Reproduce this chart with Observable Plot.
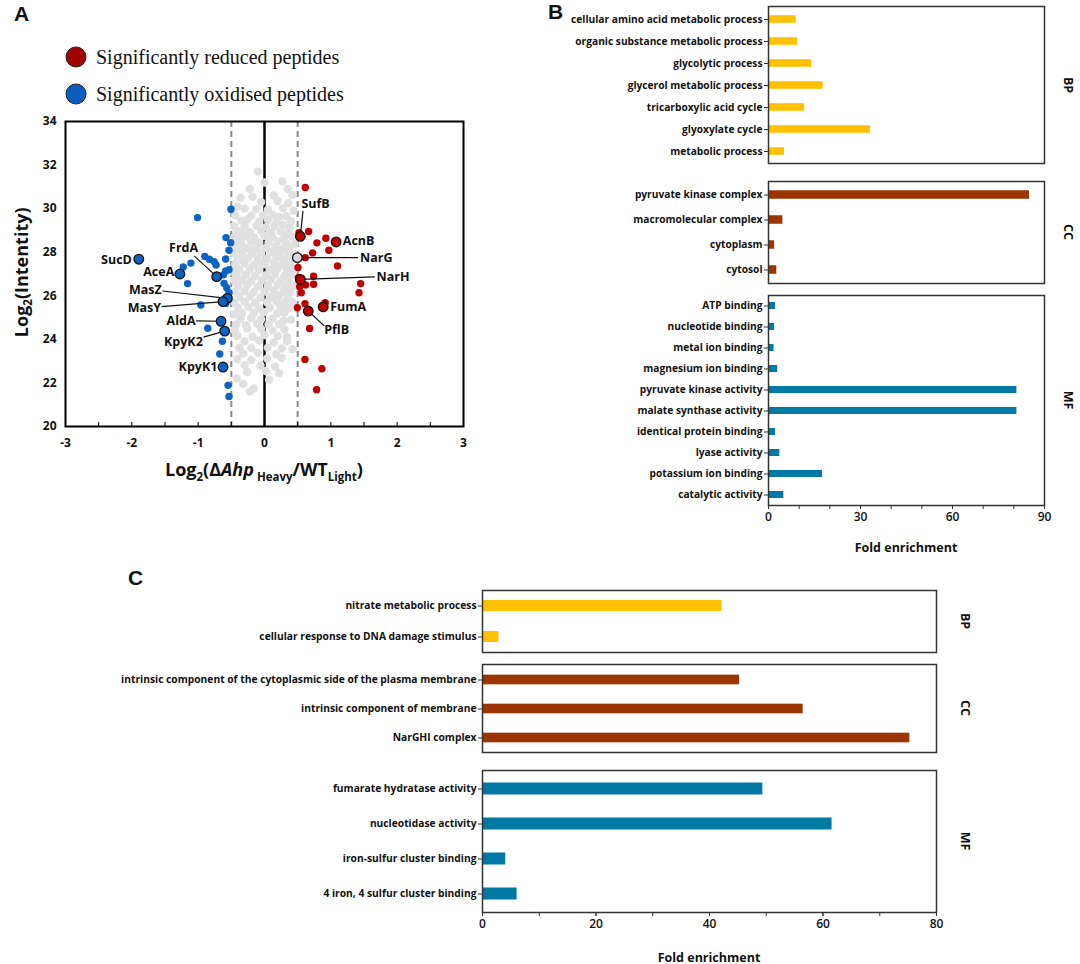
<!DOCTYPE html>
<html><head><meta charset="utf-8">
<script src="https://cdn.jsdelivr.net/npm/d3@7"></script>
<script src="https://cdn.jsdelivr.net/npm/@observablehq/plot@0.6"></script>
<style>
body{margin:0;background:#fff;}
#page{position:relative;width:1080px;height:964px;overflow:hidden;font-family:"Open Sans",sans-serif;color:#111;}
#page > div, #page > svg{position:absolute;}
.panel{font-weight:700;font-size:21px;font-family:"Liberation Sans",Arial,sans-serif;}
.side{font-weight:700;font-size:12.5px;transform:translate(-50%,-50%) rotate(90deg);white-space:nowrap;}
.ft{font-weight:700;font-size:12.5px;transform:translate(-50%,-50%);white-space:nowrap;}
.leg{font-family:"Liberation Serif","Times New Roman",serif;font-size:20px;transform:translateY(-50%);white-space:nowrap;}
.legdot{width:21px;height:21px;border-radius:50%;border:1.3px solid #222;transform:translate(-50%,-50%);box-sizing:border-box;}
.atitle{font-weight:700;font-size:18px;white-space:nowrap;}
.atitle sub{font-size:11.5px;}
</style></head><body><div id="page"></div>
<script>
// ---------- Panel A data ----------
const grayPoints = [
 [-0.1,31.7],[0.0,31.2],[0.27,31.25],[0.35,30.9],[-0.22,30.9],
 [0.14,30.6],[-0.18,30.55],[-0.36,30.5],[0.42,30.62],
 [-0.05,30.3],[0.36,30.25],[-0.41,30.1],[0.2,30.35],
 [-0.3,30.0],[0.05,29.95],[0.28,30.02],[-0.12,29.98],[0.44,29.9],
 [-0.44,29.7],[-0.2,29.68],[0.12,29.72],[0.33,29.65],[-0.02,29.7],[0.22,29.62],
 [-0.35,29.45],[-0.08,29.4],[0.05,29.48],[0.4,29.42],[0.18,29.4],[-0.26,29.5],
 [-0.46,29.2],[-0.3,29.18],[-0.12,29.22],[0.02,29.15],[0.15,29.2],[0.28,29.25],[0.38,29.15],
 [-0.4,28.95],[-0.22,28.92],[-0.05,28.98],[0.1,28.9],[0.24,28.95],[0.35,28.88],[-0.33,28.85],
 [-0.45,28.7],[-0.28,28.72],[-0.15,28.68],[0.0,28.75],[0.12,28.7],[0.3,28.65],[0.42,28.72],[-0.38,28.6],
 [-0.36,28.45],[-0.2,28.48],[-0.08,28.42],[0.06,28.45],[0.2,28.5],[0.33,28.42],[0.45,28.38],[-0.47,28.4],
 [-0.42,28.2],[-0.3,28.22],[-0.12,28.18],[0.02,28.2],[0.16,28.25],[0.27,28.15],[0.38,28.2],[-0.22,28.1],
 [-0.46,27.95],[-0.34,27.98],[-0.18,27.92],[-0.05,27.95],[0.1,28.0],[0.22,27.92],[0.36,27.95],[0.44,27.9],
 [-0.4,27.7],[-0.25,27.72],[-0.1,27.68],[0.04,27.7],[0.18,27.75],[0.3,27.68],[0.4,27.65],[-0.32,27.6],
 [-0.44,27.45],[-0.3,27.48],[-0.16,27.42],[0.0,27.45],[0.14,27.5],[0.26,27.42],[0.38,27.45],[-0.06,27.55],
 [-0.38,27.2],[-0.22,27.22],[-0.08,27.18],[0.08,27.2],[0.2,27.25],[0.34,27.18],[0.45,27.2],[-0.47,27.1],
 [-0.42,26.95],[-0.28,26.98],[-0.14,26.92],[0.02,26.95],[0.16,27.0],[0.3,26.92],[0.4,26.95],
 [-0.46,26.7],[-0.33,26.72],[-0.2,26.68],[-0.04,26.7],[0.1,26.75],[0.24,26.68],[0.36,26.7],
 [-0.4,26.45],[-0.26,26.48],[-0.1,26.42],[0.05,26.45],[0.2,26.5],[0.32,26.42],[0.44,26.45],
 [-0.44,26.2],[-0.3,26.22],[-0.16,26.18],[0.0,26.2],[0.14,26.25],[0.28,26.18],[0.38,26.2],
 [-0.38,25.95],[-0.22,25.98],[-0.06,25.92],[0.1,25.95],[0.22,26.0],[0.35,25.92],
 [-0.45,25.7],[-0.3,25.72],[-0.14,25.68],[0.04,25.7],[0.18,25.75],[0.3,25.68],[0.42,25.7],
 [-0.4,25.45],[-0.24,25.48],[-0.08,25.42],[0.08,25.45],[0.24,25.5],[0.36,25.42],
 [-0.34,25.2],[-0.16,25.22],[-0.01,25.25],[0.19,25.18],[0.3,25.22],[-0.46,25.15],
 [-0.36,24.95],[-0.2,24.98],[-0.05,24.92],[0.12,24.95],[0.29,24.85],[0.4,24.9],
 [-0.42,24.7],[-0.11,24.72],[0.06,24.68],[0.22,24.7],[-0.28,24.65],
 [-0.26,24.5],[0.12,24.42],[0.3,24.45],[-0.45,24.4],[-0.05,24.48],
 [-0.41,24.15],[-0.18,24.12],[0.0,24.2],[0.2,24.15],[0.34,24.1],
 [-0.3,23.9],[0.14,23.85],[0.34,23.92],[-0.08,23.95],
 [-0.2,23.6],[0.05,23.62],[0.26,23.58],[-0.38,23.6],[0.42,23.55],
 [-0.32,23.35],[-0.1,23.38],[0.18,23.32],
 [-0.41,23.1],[0.04,23.12],[0.26,23.15],[-0.2,23.05],
 [-0.06,22.8],[-0.3,22.82],[0.16,22.75],
 [-0.26,22.5],[0.22,22.45],[0.02,22.55],
 [-0.42,22.2],[0.07,22.15],
 [-0.32,21.95],[-0.16,21.75],
 [-0.22,21.6]
];
const reducedPoints = [
 [0.615,30.97],[0.52,28.9],[0.665,28.95],[0.79,28.43],[0.925,28.64],[0.97,28.09],
 [0.725,27.97],[0.615,27.75],[0.505,27.3],[1.1,27.37],[0.51,26.83],[0.74,26.9],
 [0.74,26.53],[0.62,26.5],[0.53,26.42],[0.555,26.14],[1.45,26.56],[1.425,26.14],
 [0.61,25.64],[0.495,25.45],[0.915,25.68],[0.68,24.5],[0.61,23.08],[0.865,22.65],[0.785,21.69]
];
const oxidisedPoints = [
 [-0.505,29.97],[-1.01,29.59],[-0.58,28.67],[-0.51,28.44],[-0.535,28.09],
 [-0.9,27.8],[-0.83,27.68],[-0.76,27.57],[-0.73,27.41],[-1.11,27.5],[-1.225,27.32],
 [-0.585,27.69],[-0.585,27.14],[-0.535,27.2],[-0.62,26.96],[-1.16,26.56],[-0.61,26.57],
 [-0.57,26.37],[-0.535,26.14],[-0.585,25.65],[-0.96,25.58],[-0.855,24.51],
 [-0.635,23.91],[-0.675,23.33],[-0.55,21.89],[-0.535,21.38]
];
const labelledNames  = ["SufB","AcnB","NarG","NarH","FumA","PflB","SucD","AceA","FrdA","MasZ","MasY","AldA","KpyK2","KpyK1"];
const labelledX      = [0.54, 1.08, 0.495, 0.54, 0.885, 0.66, -1.895, -1.275, -0.72, -0.56, -0.625, -0.655, -0.6, -0.625];
const labelledY      = [28.73, 28.47, 27.75, 26.75, 25.49, 25.3, 27.68, 27.0, 26.88, 25.88, 25.73, 24.83, 24.38, 22.73];
const labelledGroup  = ["reduced","reduced","none","reduced","reduced","reduced","oxidised","oxidised","oxidised","oxidised","oxidised","oxidised","oxidised","oxidised"];
// label placement (data coordinates) and leader-line start points
const labelTextX  = [0.77, 1.18, 1.44, 1.69, 0.99, 0.9, -2.0, -1.36, -1.22, -1.55, -1.56, -1.04, -0.93, -0.71];
const labelTextY  = [30.2, 28.5, 27.72, 26.88, 25.47, 24.45, 27.62, 27.07, 28.2, 26.26, 25.45, 24.82, 23.88, 22.73];
const labelAnchor = ["middle","start","start","start","start","start","end","end","middle","end","end","end","end","end"];
const leaderX1 = [0.58, null, 1.41, 1.66, null, 0.9, null, null, -1.06, -1.54, -1.55, -1.03, -0.92, null];
const leaderY1 = [29.9, null, 27.75, 26.87, null, 24.62, null, null, 27.83, 26.22, 25.5, 24.85, 24.1, null];
const thresholds = [-0.5, 0.5];
const xTicksA = [-3,-2.5,-2,-1.5,-1,-0.5,0,0.5,1,1.5,2,2.5,3];
const xLabelsA = [-3,-2,-1,0,1,2,3];
const yLabelsA = [20,22,24,26,28,30,32,34];

// ---------- Panel B data ----------
const bBPTerms = ["cellular amino acid metabolic process","organic substance metabolic process","glycolytic process","glycerol metabolic process","tricarboxylic acid cycle","glyoxylate cycle","metabolic process"];
const bBPValues = [9.0, 9.5, 14.1, 17.8, 11.8, 33.3, 5.2];
const bCCTerms = ["pyruvate kinase complex","macromolecular complex","cytoplasm","cytosol"];
const bCCValues = [85.1, 4.7, 2.0, 2.7];
const bMFTerms = ["ATP binding","nucleotide binding","metal ion binding","magnesium ion binding","pyruvate kinase activity","malate synthase activity","identical protein binding","lyase activity","potassium ion binding","catalytic activity"];
const bMFValues = [2.3, 2.0, 1.8, 3.0, 81.0, 81.0, 2.3, 3.7, 17.6, 5.0];
const bTicks = [0,10,20,30,40,50,60,70,80,90];
const bTickLabels = [0,30,60,90];

// ---------- Panel C data ----------
const cBPTerms = ["nitrate metabolic process","cellular response to DNA damage stimulus"];
const cBPValues = [42.2, 2.9];
const cCCTerms = ["intrinsic component of the cytoplasmic side of the plasma membrane","intrinsic component of membrane","NarGHI complex"];
const cCCValues = [45.3, 56.5, 75.3];
const cMFTerms = ["fumarate hydratase activity","nucleotidase activity","iron-sulfur cluster binding","4 iron, 4 sulfur cluster binding"];
const cMFValues = [49.4, 61.6, 4.1, 6.1];
const cTicks = [0,10,20,30,40,50,60,70,80];
const cTickLabels = [0,20,40,60,80];

const groupNames = ["BP","CC","MF"];
const groupColors = ["#ffc000","#9c3500","#0079a4"];

// ---------- helpers ----------
const page = document.getElementById("page");
function place(el, left, top){ el.style.left = left+"px"; el.style.top = top+"px"; page.appendChild(el); return el; }
function html(cls, inner, left, top){ const d=document.createElement("div"); d.className=cls; d.innerHTML=inner; return place(d,left,top); }

// ---------- Panel A ----------
html("panel","A",14,2);
const legDot1 = html("legdot","",76,57); legDot1.style.background="#a00000";
const legDot2 = html("legdot","",76,94); legDot2.style.background="#0a5cbf";
html("leg","Significantly reduced peptides",96,57);
html("leg","Significantly oxidised peptides",96,94);

const labelled = labelledNames.map((n,i)=>({name:n,x:labelledX[i],y:labelledY[i],group:labelledGroup[i],
  tx:labelTextX[i],ty:labelTextY[i],anchor:labelAnchor[i],lx:leaderX1[i],ly:leaderY1[i]}));
const leaders = labelled.filter(d=>d.lx!==null);
const fillFor = g => g==="reduced" ? "#c00000" : g==="oxidised" ? "#0b63c5" : "#d9d9d9";

const plotA = Plot.plot({
  width: 540, height: 400,
  marginLeft: 65, marginRight: 77, marginTop: 21, marginBottom: 74,
  x: {domain: [-3,3]},
  y: {domain: [20,34]},
  style: {fontFamily: "'Open Sans', sans-serif", fontWeight: 700, fontSize: "12px", color: "#111", background: "transparent"},
  marks: [
    Plot.ruleX(thresholds, {stroke: "#8a8a8a", strokeWidth: 2, strokeDasharray: "6,4"}),
    Plot.ruleX([0], {stroke: "#000", strokeWidth: 2.5}),
    Plot.dot(grayPoints, {x: d=>d[0], y: d=>d[1], r: 4.2, fill: "#e0e0e0", stroke: "none"}),
    Plot.dot(reducedPoints, {x: d=>d[0], y: d=>d[1], r: 3.7, fill: "#c00000", stroke: "none"}),
    Plot.dot(oxidisedPoints, {x: d=>d[0], y: d=>d[1], r: 3.7, fill: "#0b63c5", stroke: "none"}),
    Plot.link(leaders, {x1: "lx", y1: "ly", x2: "x", y2: "y", stroke: "#111", strokeWidth: 1.2}),
    Plot.dot(labelled, {x: "x", y: "y", r: 4.8, fill: d=>fillFor(d.group), stroke: "#111", strokeWidth: 1.3}),
    Plot.text(labelled.filter(d=>d.anchor==="start"), {x: "tx", y: "ty", text: "name", textAnchor: "start", fontSize: 12.5, fontWeight: 700, fill: "#111"}),
    Plot.text(labelled.filter(d=>d.anchor==="end"), {x: "tx", y: "ty", text: "name", textAnchor: "end", fontSize: 12.5, fontWeight: 700, fill: "#111"}),
    Plot.text(labelled.filter(d=>d.anchor==="middle"), {x: "tx", y: "ty", text: "name", textAnchor: "middle", fontSize: 12.5, fontWeight: 700, fill: "#111"}),
    Plot.axisX({ticks: xTicksA, tickSize: -4, tickFormat: () => "", stroke: "#000", label: null}),
    Plot.axisX({ticks: xLabelsA, tickSize: 0, tickPadding: 12, fontSize: 12, fontWeight: 700, tickFormat: d => String(d), label: null}),
    Plot.axisY({ticks: yLabelsA, tickSize: 0, tickPadding: 9, fontSize: 12, fontWeight: 700, tickFormat: d => String(d), label: null}),
    Plot.frame({stroke: "#000", strokeWidth: 2})
  ]
});
place(plotA, 0, 100);
html("atitle","Log<sub>2</sub>(Δ<i>Ahp</i><sub> Heavy</sub>/WT<sub>Light</sub>)",0,0).id="xtA";
const yt = html("atitle","Log<sub>2</sub>(Intentity)",0,0);
{
  const xt = document.getElementById("xtA");
  xt.style.left = (264 - xt.offsetWidth/2)+"px"; xt.style.top = (470 - xt.offsetHeight/2)+"px";
  yt.style.transformOrigin = "center center";
  yt.style.left = (22 - yt.offsetWidth/2)+"px"; yt.style.top = (272 - yt.offsetHeight/2)+"px";
  yt.style.transform = "rotate(-90deg)";
}

// ---------- bar panels ----------
function barPanel(o){
  const n = o.terms.length;
  const step = (o.height - o.mt - o.mb)/n;
  const inset = (step - o.barH)/2;
  const data = o.terms.map((t,i)=>({term:t, value:o.values[i]}));
  const marks = [
    Plot.barX(data, {x: "value", y: "term", fill: o.color, insetTop: inset, insetBottom: inset}),
    Plot.axisY({tickSize: 4, tickPadding: 2, fontSize: o.fs, fontWeight: 700, stroke: "#333", label: null}),
  ];
  if (o.ticks) {
    marks.push(Plot.axisX({ticks: o.ticks, tickSize: 4, tickFormat: () => "", stroke: "#333", label: null}));
    marks.push(Plot.axisX({ticks: o.tickLabels, tickSize: 4, tickPadding: 3, fontSize: 12, fontWeight: 600, stroke: "#333", label: null}));
  }
  marks.push(Plot.frame({stroke: "#333", strokeWidth: 1.5}));
  const p = Plot.plot({
    width: o.width, height: o.height,
    marginLeft: o.ml, marginRight: o.mr, marginTop: o.mt, marginBottom: o.mb,
    x: {domain: o.xDomain, axis: null},
    y: {domain: o.terms, padding: 0, axis: null, label: null},
    style: {fontFamily: "'Open Sans', sans-serif", color: "#111", background: "transparent"},
    marks
  });
  place(p, o.left, o.top);
  const midY = o.top + o.mt + (o.height - o.mt - o.mb)/2;
  html("side", o.name, o.sideX, midY);
}

// Panel B
html("panel","B",548,0);
barPanel({name: groupNames[0], terms: bBPTerms, values: bBPValues, color: groupColors[0], left: 540, top: 0, width: 540, height: 170, ml: 228, mr: 36, mt: 6, mb: 7, xDomain: [0,90], barH: 8, sideX: 1068, fs: 10.2});
barPanel({name: groupNames[1], terms: bCCTerms, values: bCCValues, color: groupColors[1], left: 540, top: 175, width: 540, height: 115, ml: 228, mr: 36, mt: 6, mb: 7, xDomain: [0,90], barH: 9, sideX: 1068, fs: 10.2});
barPanel({name: groupNames[2], terms: bMFTerms, values: bMFValues, color: groupColors[2], left: 540, top: 289, width: 540, height: 275, ml: 228, mr: 36, mt: 6, mb: 59, xDomain: [0,90], barH: 7, sideX: 1068, fs: 10.2, ticks: bTicks, tickLabels: bTickLabels});
html("ft","Fold enrichment",906,547);

// Panel C
html("panel","C",128,566);
barPanel({name: groupNames[0], terms: cBPTerms, values: cBPValues, color: groupColors[0], left: 0, top: 584, width: 1080, height: 74, ml: 482, mr: 144, mt: 6, mb: 6, xDomain: [0,80], barH: 11, sideX: 965, fs: 10.25});
barPanel({name: groupNames[1], terms: cCCTerms, values: cCCValues, color: groupColors[1], left: 0, top: 658, width: 1080, height: 100, ml: 482, mr: 144, mt: 6, mb: 6, xDomain: [0,80], barH: 10, sideX: 965, fs: 10.25});
barPanel({name: groupNames[2], terms: cMFTerms, values: cMFValues, color: groupColors[2], left: 0, top: 764, width: 1080, height: 200, ml: 482, mr: 144, mt: 6, mb: 52, xDomain: [0,80], barH: 12.5, sideX: 965, fs: 10.25, ticks: cTicks, tickLabels: cTickLabels});
html("ft","Fold enrichment",709,957);
</script>
</body></html>
